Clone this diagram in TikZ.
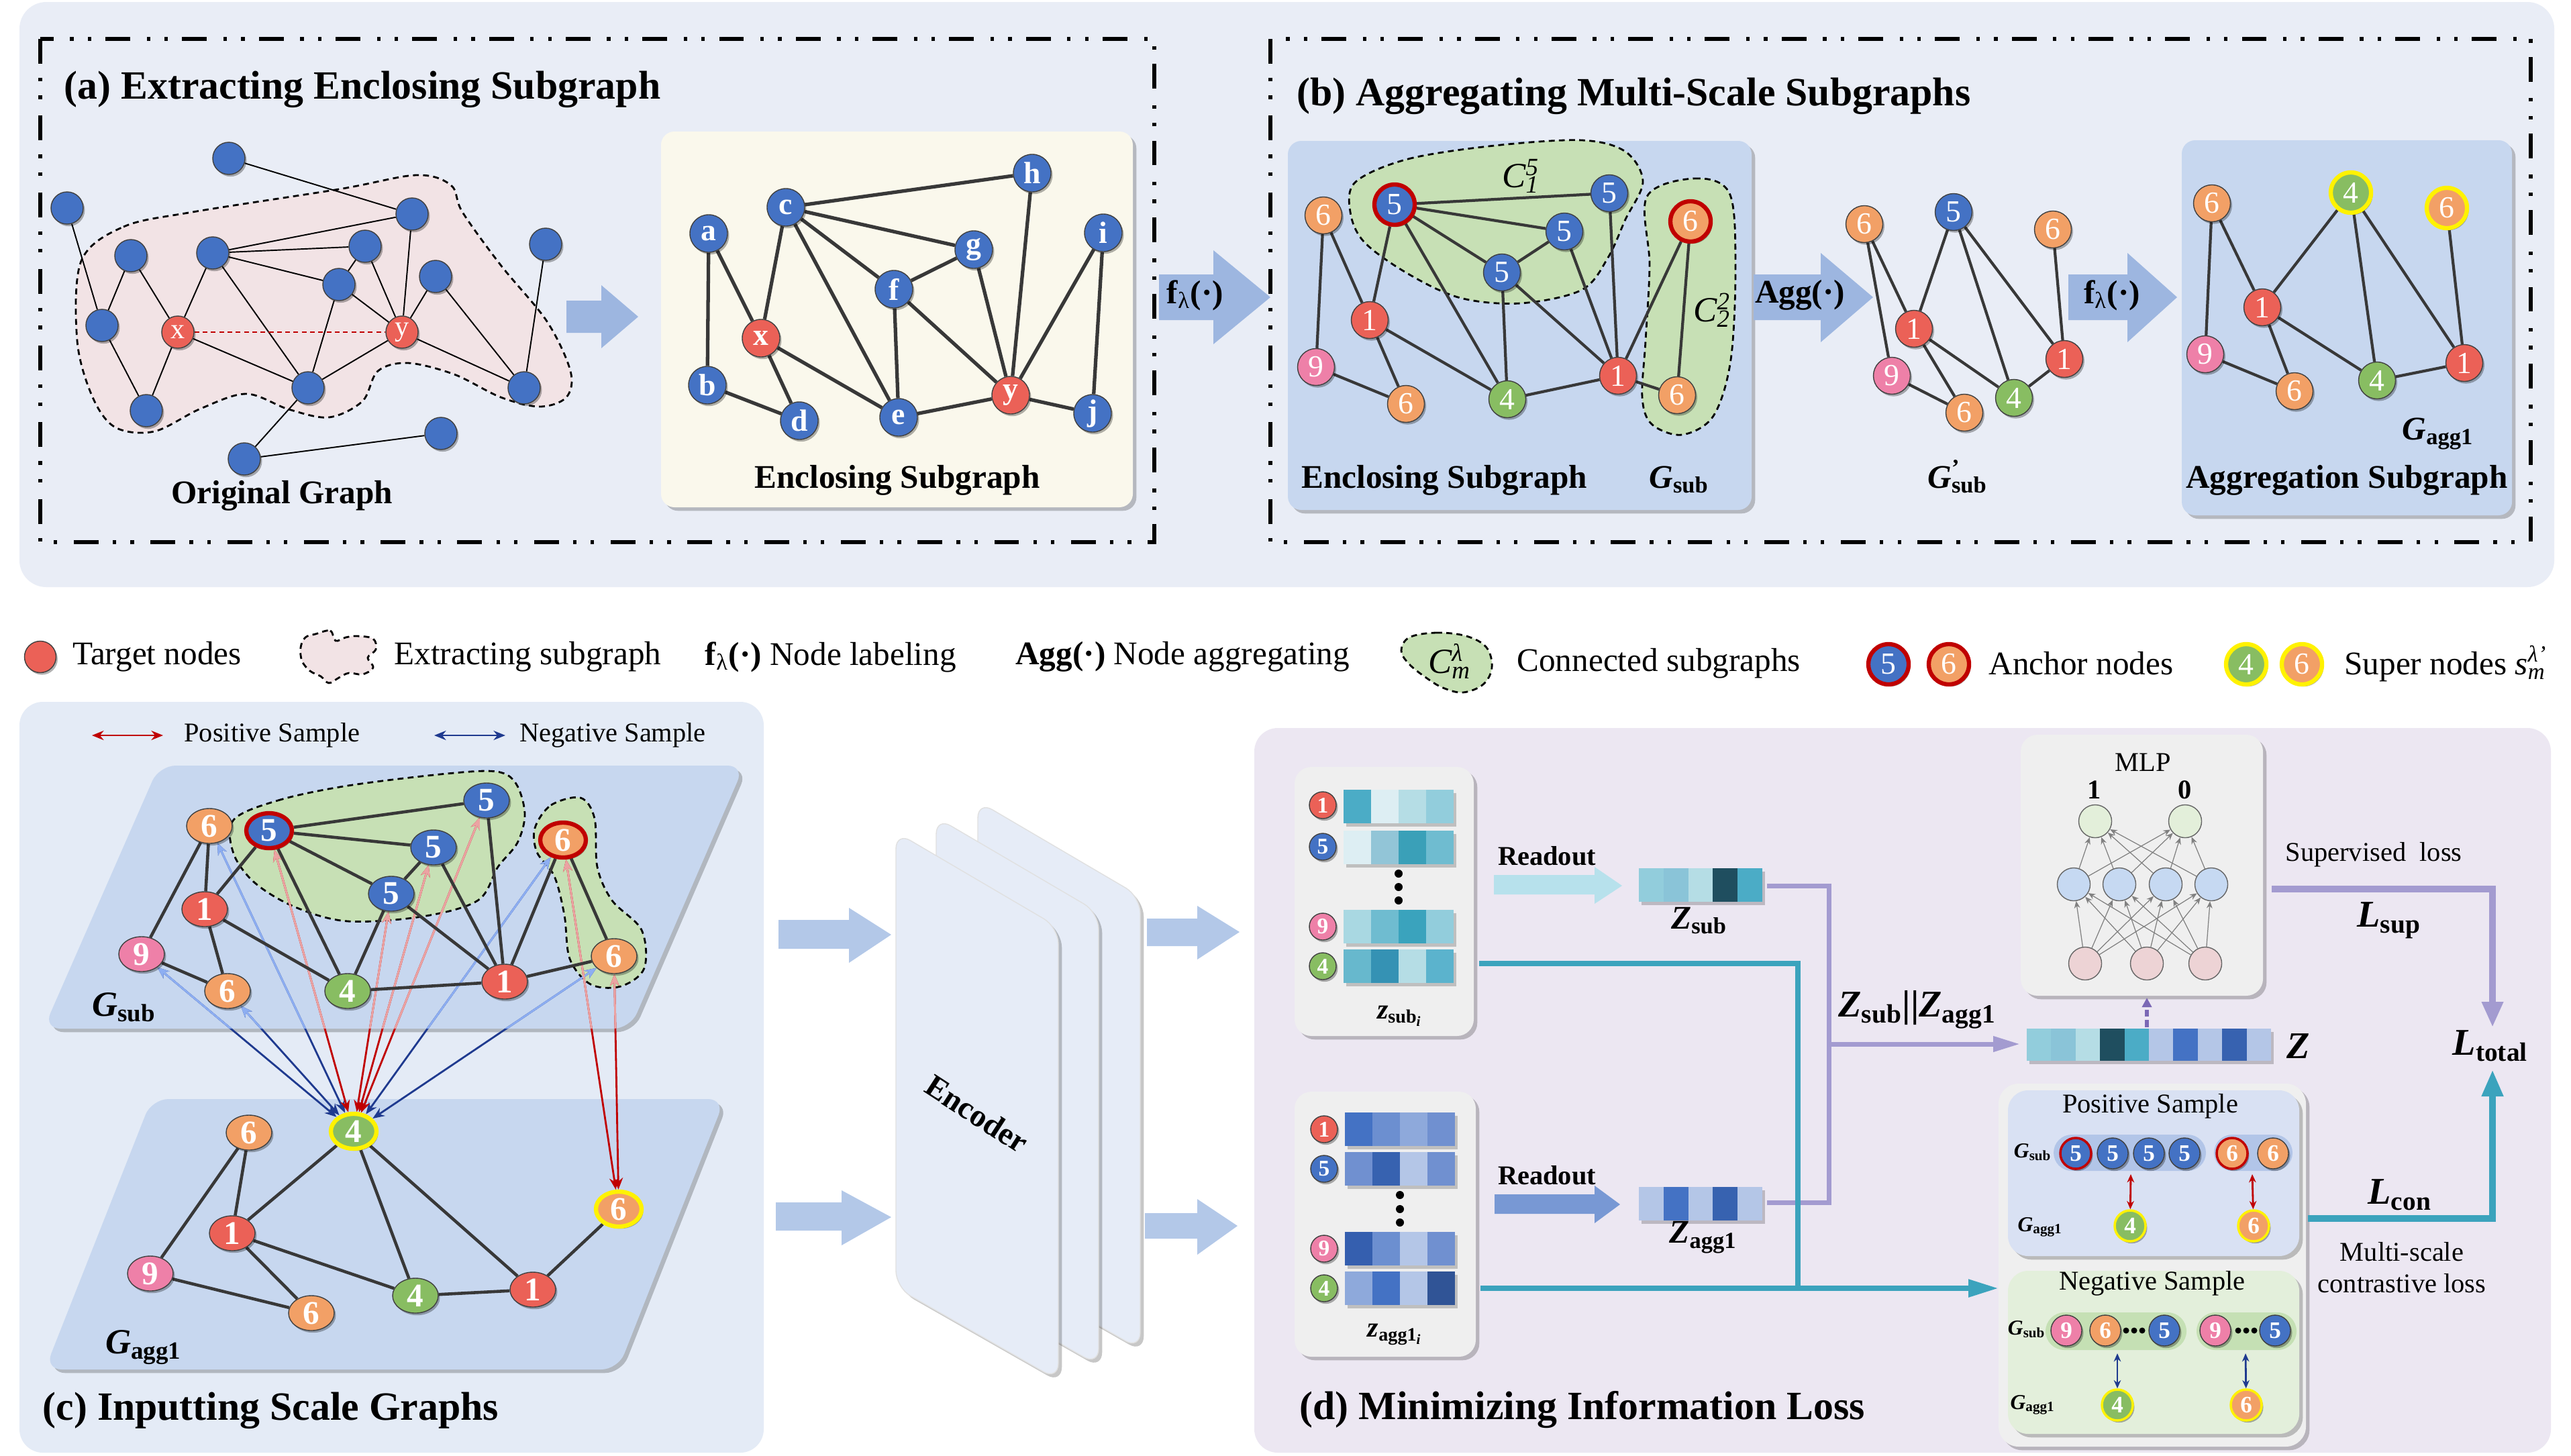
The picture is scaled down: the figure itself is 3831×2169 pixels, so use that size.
\documentclass[tikz,border=0pt]{standalone}
\usepackage{fontspec}
\setmainfont{Liberation Serif}
\usetikzlibrary{arrows.meta,shapes.geometric,shadows}
\pgfdeclarelayer{bg}
\pgfdeclarelayer{mid}
\pgfsetlayers{bg,mid,main}
\newcommand{\fsz}[1]{\fontsize{#1}{#1}\selectfont}
\newcommand{\cellrow}[6]{%
  \fill[black,opacity=0.2] ({#1+4},{#2+5}) rectangle ++({#5*#3},#4);
  \foreach \mycol [count=\myidx from 0] in {#6}{%
    \definecolor{tmpc}{HTML}{\mycol}%
    \fill[tmpc] ({#1+\myidx*#3},{#2}) rectangle ++(#3,#4);}}
\definecolor{bgtop}{HTML}{E9EDF6}
\definecolor{bgc}{HTML}{E4EBF6}
\definecolor{bgd}{HTML}{ECE7F2}
\definecolor{nblue}{HTML}{4472C4}
\definecolor{nred}{HTML}{EB6157}
\definecolor{norange}{HTML}{F2A066}
\definecolor{ngreen}{HTML}{88BD62}
\definecolor{npink}{HTML}{EE80A8}
\definecolor{ancr}{HTML}{C00000}
\definecolor{supy}{HTML}{FFF200}
\definecolor{hullp}{HTML}{F2E3E5}
\definecolor{hullg}{HTML}{C7E0B5}
\definecolor{boxb}{HTML}{C7D7EF}
\definecolor{cream}{HTML}{FAF8EC}
\definecolor{arrb}{HTML}{9DB6E0}
\definecolor{arrl}{HTML}{B3C8E8}
\definecolor{edgec}{HTML}{383838}
\definecolor{purl}{HTML}{A39BD0}
\definecolor{purd}{HTML}{7B68B5}
\definecolor{tealc}{HTML}{3BA3BD}
\definecolor{posr}{HTML}{C00000}
\definecolor{posl}{HTML}{EBA3A3}
\definecolor{negb}{HTML}{1F3A8F}
\definecolor{negl}{HTML}{8DAEF2}
\definecolor{grayb}{HTML}{EFEFEF}
\definecolor{encf}{HTML}{E6ECF7}
\definecolor{posbox}{HTML}{D9E1F3}
\definecolor{negbox}{HTML}{E3EFDB}
\definecolor{pospill}{HTML}{B2C5E8}
\definecolor{negpill}{HTML}{C5E0B4}
\definecolor{mlpo}{HTML}{E3EFDA}
\definecolor{mlph}{HTML}{C6D9F2}
\definecolor{mlpi}{HTML}{EDD3D5}
\definecolor{rdl}{HTML}{B7E1EC}
\definecolor{rdd}{HTML}{7898D4}
\tikzset{
  ddot/.style={line width=1.5pt, dash pattern=on 10.5pt off 6pt on 1.5pt off 6pt on 1.5pt off 7pt},
  hulld/.style={draw=black, line width=0.8pt, dash pattern=on 2.5pt off 1.8pt},
  bsh/.style={drop shadow={shadow xshift=1.5pt,shadow yshift=-1.5pt,opacity=0.22,fill=black}},
  nsh/.style={drop shadow={shadow xshift=0.7pt,shadow yshift=-0.9pt,opacity=0.3,fill=black}},
  nd/.style={circle, inner sep=0pt, draw=black!75, line width=0.4pt, text=white, nsh},
  na/.style={nd, fill=#1, minimum size=0.48cm, font=\fsz{12}},
  ne/.style={nd, fill=#1, minimum size=0.56cm, font=\bfseries\fsz{13}},
  nb/.style={nd, fill=#1, minimum size=0.55cm, font=\fsz{13}},
  nc/.style={ellipse, inner sep=0pt, draw=black!75, line width=0.4pt, text=white, nsh, fill=#1, minimum width=0.68cm, minimum height=0.52cm, font=\bfseries\fsz{14}},
  ns/.style={nd, fill=#1, minimum size=0.40cm, font=\bfseries\fsz{9.5}},
  nq/.style={nd, fill=#1, minimum size=0.46cm, font=\bfseries\fsz{10}},
  mn/.style={circle, inner sep=0pt, draw=black!60, line width=0.4pt, minimum size=0.49cm, fill=#1},
  anc/.style={draw=ancr, line width=1.8pt},
  sring/.style={draw=supy, line width=1.8pt},
  lnA/.style={draw=black, line width=0.55pt},
  lnE/.style={draw=edgec, line width=1.5pt},
  lnB/.style={draw=edgec, line width=1.2pt},
  lnC/.style={draw=edgec, line width=1.3pt},
  posarr/.style={<->, draw=posr, line width=0.8pt},
  negarr/.style={<->, draw=negb, line width=0.8pt},
  posarrl/.style={<->, draw=posl, line width=0.8pt},
  negarrl/.style={<->, draw=negl, line width=0.8pt},
  mlpa/.style={-{Stealth[length=3pt,width=2.5pt]}, draw=black!50, line width=0.35pt},
  ttl/.style={font=\bfseries\fsz{17}, anchor=base west, inner sep=0pt},
  lbl/.style={font=\bfseries\fsz{14}, anchor=base, inner sep=0pt},
}
\begin{document}
\begin{tikzpicture}[x=0.01cm,y=-0.01cm,>={Stealth[length=5pt,width=4pt]},font=\fsz{14}]
\useasboundingbox (0,0) rectangle (3831,2169);

% ================= backgrounds =================
\begin{pgfonlayer}{bg}
\fill[white] (0,0) rectangle (3831,2169);
\fill[bgtop, rounded corners=0.4cm] (29,3) rectangle (3806,875);
\fill[bgc, rounded corners=0.35cm] (29,1046) rectangle (1138,2165);
\fill[bgd, rounded corners=0.35cm] (1869,1085) rectangle (3801,2165);
\draw[ddot] (60,58) rectangle (1720,808);
\draw[ddot] (1893,58) rectangle (3771,808);
% panel a
\draw[hulld, fill=hullp] plot[smooth cycle, tension=0.55] coordinates {(121,389) (184,338) (287,316) (505,282) (620,261) (672,276) (689,316) (746,395) (815,479) (850,553) (844,592) (804,606) (746,592) (677,558) (608,541) (563,553) (540,598) (490,622) (430,610) (367,587) (299,609) (230,643) (172,637) (138,592) (115,508)};
\fill[cream, rounded corners=0.2cm, bsh] (985,196) rectangle (1688,756);
% panel b
\fill[boxb, rounded corners=0.2cm, bsh] (1919,210) rectangle (2610,760);
\fill[boxb, rounded corners=0.2cm, bsh] (3251,209) rectangle (3743,768);
\draw[hulld, fill=hullg] plot[smooth cycle, tension=0.55] coordinates {(2020,271) (2098,237) (2227,217) (2357,209) (2422,226) (2448,271) (2422,327) (2396,384) (2357,432) (2266,452) (2176,444) (2098,408) (2033,361) (2012,316)};
\draw[hulld, fill=hullg] plot[smooth cycle, tension=0.55] coordinates {(2454,293) (2525,266) (2577,288) (2586,395) (2579,536) (2553,620) (2506,648) (2461,632) (2447,592) (2452,508) (2458,395)};
% legend blobs
\draw[hulld, fill=hullp] plot[smooth cycle, tension=0.6] coordinates {(470,945) (492,940) (500,955) (515,950) (532,948) (556,952) (560,968) (548,980) (556,995) (540,1005) (520,1003) (505,1010) (490,1018) (478,1008) (462,1000) (450,985) (448,965) (455,950)};
\draw[hulld, fill=hullg] plot[smooth cycle, tension=0.6] coordinates {(2100,950) (2140,943) (2185,948) (2215,965) (2223,995) (2210,1020) (2180,1032) (2150,1025) (2125,1010) (2100,990) (2088,970)};
% panel c planes
\path[fill=boxb, rounded corners=0.25cm, bsh] (237,1141) -- (1109,1141) -- (939,1533) -- (65,1533) -- cycle;
\path[fill=boxb, rounded corners=0.25cm, bsh] (226,1638) -- (1080,1638) -- (921,2041) -- (67,2041) -- cycle;
\draw[hulld, fill=hullg] plot[smooth cycle, tension=0.55] coordinates {(348,1222) (414,1193) (518,1171) (666,1153) (740,1150) (769,1168) (782,1213) (771,1256) (742,1292) (712,1342) (629,1366) (518,1373) (440,1352) (380,1316) (348,1272)};
\draw[hulld, fill=hullg] plot[smooth cycle, tension=0.55] coordinates {(797,1234) (821,1200) (865,1189) (886,1220) (890,1292) (912,1342) (956,1386) (960,1443) (925,1470) (880,1467) (849,1429) (841,1364) (826,1306) (800,1270)};
% encoder sheets
\foreach \dx/\dy in {122/-46, 60/-22, 0/0}{
  \path[fill=encf, draw=black!12, line width=0.4pt, rounded corners=0.25cm, bsh] ({1335+\dx},{1240+\dy}) -- ({1577+\dx},{1382+\dy}) -- ({1577+\dx},{2057+\dy}) -- ({1335+\dx},{1919+\dy}) -- cycle;}
% panel d boxes
\fill[grayb, rounded corners=0.25cm, bsh] (1929,1143) rectangle (2196,1544);
\fill[grayb, rounded corners=0.25cm, bsh] (1929,1627) rectangle (2199,2022);
\fill[grayb, rounded corners=0.25cm, bsh] (3011,1095) rectangle (3372,1484);
\fill[grayb, rounded corners=0.3cm, bsh] (2978,1615) rectangle (3436,2156);
\fill[posbox, rounded corners=0.3cm, bsh] (2992,1625) rectangle (3426,1872);
\fill[negbox, rounded corners=0.3cm, bsh] (2992,1894) rectangle (3426,2137);
\fill[pospill, rounded corners=0.27cm] (3060,1691) rectangle (3287,1745);
\fill[pospill, rounded corners=0.27cm] (3299,1691) rectangle (3416,1745);
\fill[negpill, rounded corners=0.28cm] (3048,1956) rectangle (3258,2012);
\fill[negpill, rounded corners=0.28cm] (3273,1956) rectangle (3422,2012);
% vectors
\cellrow{2002}{1177}{41}{50}{4}{4BACC6,DDEEF3,B5DDE5,92CDDC}
\cellrow{2002}{1238}{41}{50}{4}{DDEEF3,92C5D7,3AA0B8,6FBCD0}
\cellrow{2002}{1356}{41}{50}{4}{A9D8E2,6FBCD0,3AA3BD,92CDDC}
\cellrow{2002}{1415}{41}{50}{4}{67B8CD,3592B4,B5DDE5,5BB3CD}
\cellrow{2004}{1658}{41}{50}{4}{4472C4,6C8FD0,8EA9DB,7090D0}
\cellrow{2004}{1717}{41}{50}{4}{7090D0,3762B0,B4C6E7,7090D0}
\cellrow{2004}{1836}{41}{50}{4}{355FAF,6C8FD0,B4C6E7,7090D0}
\cellrow{2004}{1895}{41}{50}{4}{8EA9DB,4472C4,B4C6E7,305496}
\cellrow{2442}{1294}{36.8}{50}{5}{92CDDC,8AC4D8,B5DDE5,1F4E5F,4BACC6}
\cellrow{2442}{1769}{36.8}{50}{5}{B4C6E7,4472C4,B4C6E7,3762B0,B4C6E7}
\cellrow{3020}{1533}{36.4}{48}{10}{92CDDC,8AC4D8,B5DDE5,1F4E5F,4BACC6,B4C6E7,4472C4,B4C6E7,3762B0,B4C6E7}
\end{pgfonlayer}

% ================= titles =================
\node[ttl] at (95,147) {(a) Extracting Enclosing Subgraph};
\node[ttl] at (1932,157) {(b) Aggregating Multi-Scale Subgraphs};
\node[ttl] at (63,2116) {(c) Inputting Scale Graphs};
\node[ttl] at (1936,2115) {(d) Minimizing Information Loss};

% ================= block arrows =================
\fill[arrb] (844,448) -- (896,448) -- (896,425) -- (951,472) -- (896,519) -- (896,496) -- (844,496) -- cycle;
\fill[arrb] (1727,409) -- (1808,409) -- (1808,373) -- (1893,443) -- (1808,513) -- (1808,477) -- (1727,477) -- cycle;
\fill[arrb] (2613,409) -- (2713,409) -- (2713,377) -- (2791,443) -- (2713,510) -- (2713,477) -- (2613,477) -- cycle;
\fill[arrb] (3082,409) -- (3170,409) -- (3170,377) -- (3244,443) -- (3170,510) -- (3170,477) -- (3082,477) -- cycle;
\node[font=\bfseries\fsz{14}] (fl1) at (1781,440) {f\textsubscript{\mdseries λ}(·)};
\node[font=\bfseries\fsz{14}] (agg) at (2682,440) {Agg(·)};
\node[font=\bfseries\fsz{14}] (fl2) at (3147,440) {f\textsubscript{\mdseries λ}(·)};
\fill[arrl] (1160,1371) -- (1265,1371) -- (1265,1353) -- (1328,1393) -- (1265,1435) -- (1265,1414) -- (1160,1414) -- cycle;
\fill[arrl] (1156,1792) -- (1254,1792) -- (1254,1774) -- (1328,1814) -- (1254,1856) -- (1254,1834) -- (1156,1834) -- cycle;
\fill[arrl] (1709,1369) -- (1784,1369) -- (1784,1350) -- (1847,1389) -- (1784,1430) -- (1784,1410) -- (1709,1410) -- cycle;
\fill[arrl] (1706,1808) -- (1784,1808) -- (1784,1787) -- (1844,1827) -- (1784,1870) -- (1784,1846) -- (1706,1846) -- cycle;
\fill[rdl] (2226,1304) -- (2376,1304) -- (2376,1292) -- (2417,1320) -- (2376,1347) -- (2376,1333) -- (2226,1333) -- cycle;
\fill[rdd] (2227,1780) -- (2376,1780) -- (2376,1767) -- (2414,1795) -- (2376,1823) -- (2376,1809) -- (2227,1809) -- cycle;

% ================= panel (a) =================
\node[na=nblue] (o1) at (341,236) {};
\node[na=nblue] (o2) at (100,310) {};
\node[na=nblue] (o3) at (614,319) {};
\node[na=nblue] (o4) at (813,364) {};
\node[na=nblue] (o5) at (195,381) {};
\node[na=nblue] (o6) at (317,377) {};
\node[na=nblue] (o7) at (544,367) {};
\node[na=nblue] (o8) at (649,412) {};
\node[na=nblue] (o9) at (505,424) {};
\node[na=nblue] (o10) at (152,485) {};
\node[na=nred] (ox) at (265,495) {x};
\node[na=nred] (oy) at (599,495) {y};
\node[na=nblue] (o11) at (459,578) {};
\node[na=nblue] (o12) at (781,578) {};
\node[na=nblue] (o13) at (218,612) {};
\node[na=nblue] (o14) at (657,646) {};
\node[na=nblue] (o15) at (364,684) {};
\begin{pgfonlayer}{mid}
\foreach \a/\b in {o1/o3,o2/o10,o3/o6,o3/oy,o5/o10,o5/ox,o6/ox,o6/o7,o6/o9,o6/o11,o7/oy,o7/o9,o9/oy,o9/o11,o8/oy,o8/o12,o4/o12,o10/o13,ox/o13,ox/o11,oy/o11,oy/o12,o11/o15,o15/o14}
  \draw[lnA] (\a) -- (\b);
\draw[draw=ancr, line width=0.8pt, dash pattern=on 2pt off 1.5pt] (ox) -- (oy);
\end{pgfonlayer}
\node[lbl] at (420,750) {Original Graph};

\node[ne=nblue] (qa) at (1056,348) {a};
\node[ne=nblue] (qc) at (1171,309) {c};
\node[ne=nblue] (qh) at (1538,258) {h};
\node[ne=nblue] (qi) at (1644,347) {i};
\node[ne=nblue] (qg) at (1451,372) {g};
\node[ne=nblue] (qf) at (1332,431) {f};
\node[ne=nred] (qx) at (1134,504) {x};
\node[ne=nblue] (qb) at (1054,574) {b};
\node[ne=nblue] (qd) at (1191,627) {d};
\node[ne=nblue] (qe) at (1339,622) {e};
\node[ne=nred] (qy) at (1506,589) {y};
\node[ne=nblue] (qj) at (1628,616) {j};
\begin{pgfonlayer}{mid}
\foreach \a/\b in {qc/qh,qc/qg,qc/qf,qc/qx,qc/qe,qa/qx,qa/qb,qb/qd,qx/qd,qx/qe,qf/qg,qf/qe,qf/qy,qg/qy,qh/qy,qi/qy,qi/qj,qe/qy,qy/qj}
  \draw[lnE] (\a) -- (\b);
\end{pgfonlayer}
\node[lbl] at (1337,727) {Enclosing Subgraph};

% ================= panel (b) =================
\node[nb=norange] (b6a) at (1972,321) {6};
\node[nb=nblue, anc, minimum size=0.6cm] (b5A) at (2078,305) {5};
\node[nb=nblue] (b5b) at (2398,288) {5};
\node[nb=nblue] (b5c) at (2331,345) {5};
\node[nb=nblue] (b5d) at (2238,406) {5};
\node[nb=norange, anc, minimum size=0.6cm] (b6A) at (2519,330) {6};
\node[nb=nred] (b1a) at (2041,477) {1};
\node[nb=npink] (b9) at (1961,547) {9};
\node[nb=norange] (b6b) at (2095,602) {6};
\node[nb=ngreen] (b4) at (2246,595) {4};
\node[nb=nred] (b1b) at (2411,560) {1};
\node[nb=norange] (b6c) at (2499,589) {6};
\begin{pgfonlayer}{mid}
\foreach \a/\b in {b6a/b9,b6a/b1a,b5A/b1a,b5A/b5b,b5A/b5c,b5A/b5d,b5A/b4,b5c/b5d,b5b/b1b,b5c/b1b,b5d/b1b,b5d/b4,b1a/b6b,b1a/b4,b9/b6b,b4/b1b,b1b/b6A,b1b/b6c,b6A/b6c}
  \draw[lnB] (\a) -- (\b);
\end{pgfonlayer}
\node[font=\itshape\fsz{15}] (c15) at (2266,262) {C\rlap{\textsuperscript{5}}\textsubscript{1}};
\node[font=\itshape\fsz{15}] (c22) at (2551,462) {C\rlap{\textsuperscript{2}}\textsubscript{2}};
\node[lbl] at (2152,727) {Enclosing Subgraph};
\node[lbl] at (2502,727) {\textit{G}\textsubscript{sub}};

\node[nb=norange] (p6a) at (2778,334) {6};
\node[nb=nblue] (p5) at (2911,316) {5};
\node[nb=norange] (p6b) at (3059,342) {6};
\node[nb=nred] (p1a) at (2852,490) {1};
\node[nb=npink] (p9) at (2819,560) {9};
\node[nb=norange] (p6c) at (2927,615) {6};
\node[nb=ngreen] (p4) at (3001,593) {4};
\node[nb=nred] (p1b) at (3076,535) {1};
\begin{pgfonlayer}{mid}
\foreach \a/\b in {p6a/p9,p6a/p1a,p5/p1a,p5/p4,p5/p1b,p6b/p1b,p1a/p6c,p1a/p4,p9/p6c,p4/p1b}
  \draw[lnB] (\a) -- (\b);
\end{pgfonlayer}
\node[lbl] at (2917,727) {\textit{G}\rlap{\textsuperscript{'}}\textsubscript{sub}};

\node[nb=norange] (g6a) at (3296,303) {6};
\node[nb=ngreen, sring, minimum size=0.6cm] (g4S) at (3503,287) {4};
\node[nb=norange, sring, minimum size=0.6cm] (g6S) at (3646,310) {6};
\node[nb=nred] (g1a) at (3371,458) {1};
\node[nb=npink] (g9) at (3286,528) {9};
\node[nb=norange] (g6b) at (3419,583) {6};
\node[nb=ngreen] (g4) at (3542,567) {4};
\node[nb=nred] (g1b) at (3672,541) {1};
\begin{pgfonlayer}{mid}
\foreach \a/\b in {g6a/g9,g6a/g1a,g4S/g1a,g4S/g4,g4S/g1b,g6S/g1b,g1a/g6b,g1a/g4,g9/g6b,g4/g1b}
  \draw[lnB] (\a) -- (\b);
\end{pgfonlayer}
\node[lbl] at (3633,655) {\textit{G}\textsubscript{agg1}};
\node[lbl] at (3497,727) {Aggregation Subgraph};

% ================= legend =================
\node[nd, fill=nred, minimum size=0.47cm] (lg1) at (60,979) {};
\node[anchor=west] at (96,979) {Target nodes};
\node[anchor=west] at (575,979) {Extracting subgraph};
\node[anchor=west] at (1038,979) {\textbf{f}\textsubscript{λ}\textbf{(·)} Node labeling};
\node[anchor=west] at (1501,979) {\textbf{Agg(·)} Node aggregating};
\node[font=\itshape\fsz{15}] at (2160,985) {C\rlap{\textsuperscript{λ}}\textsubscript{m}};
\node[anchor=west] at (2248,989) {Connected subgraphs};
\node[nb=nblue, anc, minimum size=0.6cm] (lg5) at (2814,990) {5};
\node[nb=norange, anc, minimum size=0.6cm] (lg6) at (2904,990) {6};
\node[anchor=west] at (2951,989) {Anchor nodes};
\node[nb=ngreen, sring, minimum size=0.6cm] (lg4s) at (3347,990) {4};
\node[nb=norange, sring, minimum size=0.6cm] (lg6s) at (3430,990) {6};
\node[anchor=west] at (3481,989) {Super nodes \textit{s}\rlap{\textsuperscript{\itshape λ'}}\textsubscript{\itshape m}};

% ================= panel (c) =================
\coordinate (pl1) at (137,1096); \coordinate (pl2) at (243,1096);
\coordinate (nl1) at (647,1096); \coordinate (nl2) at (753,1096);
\draw[posarr] (pl1) -- (pl2);
\draw[negarr] (nl1) -- (nl2);
\node[anchor=west, font=\fsz{11.5}] at (262,1096) {Positive Sample};
\node[anchor=west, font=\fsz{11.5}] at (762,1096) {Negative Sample};

\node[nc=norange] (c6a) at (312,1231) {6};
\node[nc=nblue, anc] (c5A) at (401,1238) {5};
\node[nc=nblue] (c5t) at (725,1193) {5};
\node[nc=nblue] (c5m) at (646,1263) {5};
\node[nc=nblue] (c5l) at (583,1332) {5};
\node[nc=norange, anc] (c6A) at (839,1252) {6};
\node[nc=nred] (c1a) at (305,1355) {1};
\node[nc=npink] (c9) at (211,1422) {9};
\node[nc=norange] (c6b) at (339,1477) {6};
\node[nc=ngreen] (c4) at (518,1477) {4};
\node[nc=nred] (c1b) at (752,1463) {1};
\node[nc=norange] (c6c) at (915,1425) {6};

\node[nc=norange] (d6a) at (371,1688) {6};
\node[nc=ngreen, sring] (d4S) at (527,1686) {4};
\node[nc=norange, sring] (d6S) at (922,1802) {6};
\node[nc=nred] (d1a) at (346,1838) {1};
\node[nc=npink] (d9) at (224,1898) {9};
\node[nc=norange] (d6b) at (464,1957) {6};
\node[nc=ngreen] (d4) at (619,1931) {4};
\node[nc=nred] (d1b) at (794,1922) {1};

\begin{pgfonlayer}{mid}
\foreach \t in {c9,c6b,c6a,c6A,c6c} \draw[negarr] (d4S) -- (\t);
\foreach \t in {c5A,c5t,c5m,c5l} \draw[posarr] (d4S) -- (\t);
\foreach \t in {c6A,c6c} \draw[posarr] (d6S) -- (\t);
\begin{scope}
\clip[rounded corners=0.25cm] (237,1141) -- (1109,1141) -- (939,1533) -- (65,1533) -- cycle;
\foreach \t in {c9,c6b,c6a,c6A,c6c} \draw[negarrl] (d4S) -- (\t);
\foreach \t in {c5A,c5t,c5m,c5l} \draw[posarrl] (d4S) -- (\t);
\foreach \t in {c6A,c6c} \draw[posarrl] (d6S) -- (\t);
\end{scope}
\foreach \a/\b in {c6a/c9,c6a/c1a,c5A/c1a,c5A/c5t,c5A/c5m,c5A/c5l,c5A/c4,c5m/c5l,c5t/c1b,c5m/c1b,c5l/c1b,c5l/c4,c1a/c4,c1a/c6b,c9/c6b,c4/c1b,c1b/c6A,c1b/c6c,c6A/c6c}
  \draw[lnC] (\a) -- (\b);
\foreach \a/\b in {d6a/d9,d6a/d1a,d4S/d1a,d4S/d4,d4S/d1b,d1a/d6b,d1a/d4,d9/d6b,d4/d1b,d1b/d6S}
  \draw[lnC] (\a) -- (\b);
\end{pgfonlayer}
\node[font=\bfseries\fsz{15}] at (185,1501) {\textit{G}\textsubscript{sub}};
\node[font=\bfseries\fsz{15}] at (214,2008) {\textit{G}\textsubscript{agg1}};

% ================= encoder =================
\node[rotate=-33, font=\bfseries\fsz{13.5}] (enc) at (1456,1660) {Encoder};

% ================= panel (d) =================
\node[ns=nred] (s1) at (1971,1200) {1};
\node[ns=nblue] (s5) at (1971,1262) {5};
\node[ns=npink] (s9) at (1971,1381) {9};
\node[ns=ngreen] (s4) at (1971,1440) {4};
\foreach \yy in {1302,1322,1342} \fill (2084,\yy) circle[radius=0.06cm];
\node[font=\bfseries\fsz{12}] (zsl) at (2086,1514) {\textit{z}\textsubscript{sub\textsubscript{\itshape i}}};

\node[ns=nred] (t1) at (1973,1683) {1};
\node[ns=nblue] (t5) at (1973,1742) {5};
\node[ns=npink] (t9) at (1973,1861) {9};
\node[ns=ngreen] (t4) at (1973,1920) {4};
\foreach \yy in {1781,1802,1822} \fill (2086,\yy) circle[radius=0.06cm];
\node[font=\bfseries\fsz{12}] (zal) at (2079,1989) {\textit{z}\textsubscript{agg1\textsubscript{\itshape i}}};

\node[font=\bfseries\fsz{11.5}] at (2305,1276) {Readout};
\node[font=\bfseries\fsz{11.5}] at (2305,1752) {Readout};
\node[font=\bfseries\fsz{14}] at (2532,1372) {\textit{Z}\textsubscript{sub}};
\node[font=\bfseries\fsz{14}] at (2538,1844) {\textit{Z}\textsubscript{agg1}};
\node[font=\bfseries\fsz{16}] at (2857,1505) {\textit{Z}\textsubscript{sub}||\textit{Z}\textsubscript{agg1}};

\coordinate (zsubE) at (2633,1320);
\coordinate (zaggE) at (2633,1792);
\coordinate (pj) at (2725,1556);
\coordinate (zvW) at (3010,1556);
\coordinate (zsbE) at (2204,1436);
\coordinate (tj) at (2679,1920);
\coordinate (zabE) at (2206,1920);
\coordinate (samW) at (2978,1920);
\coordinate (mlpE) at (3385,1325);
\coordinate (ltN) at (3714,1531);
\coordinate (samE) at (3439,1816);
\coordinate (ltS) at (3714,1594);
\coordinate (zvt) at (3199,1531);
\coordinate (mlpS) at (3199,1487);
\begin{pgfonlayer}{mid}
\draw[purl, line width=2pt] (zsubE) -| (pj) |- (zaggE);
\draw[purl, line width=2pt, -{Triangle[length=0.4cm,width=0.22cm]}] (pj) -- (zvW);
\draw[tealc, line width=2.3pt] (zsbE) -| (tj);
\draw[tealc, line width=2.3pt, -{Triangle[length=0.45cm,width=0.25cm]}] (zabE) -- (samW);
\draw[purl, line width=3pt, -{Triangle[length=0.38cm,width=0.3cm]}] (mlpE) -| (ltN);
\draw[tealc, line width=3pt, -{Triangle[length=0.4cm,width=0.3cm]}] (samE) -| (ltS);
\draw[purd, line width=1.6pt, dash pattern=on 3pt off 1.5pt, -{Triangle[length=0.14cm,width=0.14cm]}] (zvt) -- (mlpS);
\end{pgfonlayer}

% MLP
\node[font=\fsz{11.5}] at (3193,1136) {MLP};
\node[font=\bfseries\fsz{11.5}] at (3121,1177) {1};
\node[font=\bfseries\fsz{11.5}] at (3256,1177) {0};
\node[mn=mlpo] (mo1) at (3122,1224) {};
\node[mn=mlpo] (mo2) at (3256,1224) {};
\node[mn=mlph] (mh1) at (3090,1318) {};
\node[mn=mlph] (mh2) at (3158,1318) {};
\node[mn=mlph] (mh3) at (3227,1318) {};
\node[mn=mlph] (mh4) at (3295,1318) {};
\node[mn=mlpi] (mi1) at (3107,1436) {};
\node[mn=mlpi] (mi2) at (3199,1436) {};
\node[mn=mlpi] (mi3) at (3286,1436) {};
\begin{pgfonlayer}{mid}
\foreach \a in {1,2,3} \foreach \b in {1,2,3,4} \draw[mlpa] (mi\a) -- (mh\b);
\foreach \a in {1,2,3,4} \foreach \b in {1,2} \draw[mlpa] (mh\a) -- (mo\b);
\end{pgfonlayer}
\node[font=\bfseries\itshape\fsz{16}] at (3425,1559) {Z};
\node[font=\fsz{11.5}] at (3537,1274) {Supervised~~loss};
\node[font=\bfseries\fsz{16}] at (3560,1372) {\textit{L}\textsubscript{sup}};
\node[font=\bfseries\fsz{16}] at (3711,1559) {\textit{L}\textsubscript{total}};
\node[font=\bfseries\fsz{16}] at (3576,1781) {\textit{L}\textsubscript{con}};
\node[font=\fsz{11.5}] at (3579,1866) {Multi-scale};
\node[font=\fsz{11.5}] at (3579,1913) {contrastive loss};

% samples
\node[font=\fsz{11.5}] at (3204,1649) {Positive Sample};
\node[font=\fsz{11.5}] at (3207,1913) {Negative Sample};
\node[font=\bfseries\fsz{9}] at (3029,1717) {\textit{G}\textsubscript{sub}};
\node[font=\bfseries\fsz{9}] at (3040,1829) {\textit{G}\textsubscript{agg1}};
\node[font=\bfseries\fsz{9}] at (3020,1981) {\textit{G}\textsubscript{sub}};
\node[font=\bfseries\fsz{9}] at (3029,2094) {\textit{G}\textsubscript{agg1}};
\node[nq=nblue, draw=ancr, line width=1pt] (ps1) at (3093,1719) {5};
\node[nq=nblue] (ps2) at (3148,1719) {5};
\node[nq=nblue] (ps3) at (3202,1719) {5};
\node[nq=nblue] (ps4) at (3255,1719) {5};
\node[nq=norange, draw=ancr, line width=1pt] (ps5) at (3326,1719) {6};
\node[nq=norange] (ps6) at (3387,1719) {6};
\node[nq=ngreen, draw=supy, line width=1pt] (pa4) at (3174,1827) {4};
\node[nq=norange, draw=supy, line width=1pt] (pa6) at (3358,1827) {6};
\coordinate (pu1) at (3175,1750); \coordinate (pu2) at (3356,1750);
\draw[posarr, >={Stealth[length=3.5pt,width=3pt]}] (pa4) -- (pu1);
\draw[posarr, >={Stealth[length=3.5pt,width=3pt]}] (pa6) -- (pu2);
\node[nq=npink] (ng1) at (3079,1983) {9};
\node[nq=norange] (ng2) at (3137,1983) {6};
\node[nq=nblue] (ng3) at (3225,1983) {5};
\node[nq=npink] (ng4) at (3301,1983) {9};
\node[nq=nblue] (ng5) at (3390,1983) {5};
\foreach \xx in {3168,3180,3192,3335,3347,3359} \fill (\xx,1983) circle[radius=0.045cm];
\node[nq=ngreen, draw=supy, line width=1pt] (na4) at (3155,2094) {4};
\node[nq=norange, draw=supy, line width=1pt] (na6) at (3347,2094) {6};
\coordinate (nu1) at (3155,2017); \coordinate (nu2) at (3346,2017);
\draw[negarr, >={Stealth[length=3.5pt,width=3pt]}] (na4) -- (nu1);
\draw[negarr, >={Stealth[length=3.5pt,width=3pt]}] (na6) -- (nu2);
\end{tikzpicture}
\end{document}
